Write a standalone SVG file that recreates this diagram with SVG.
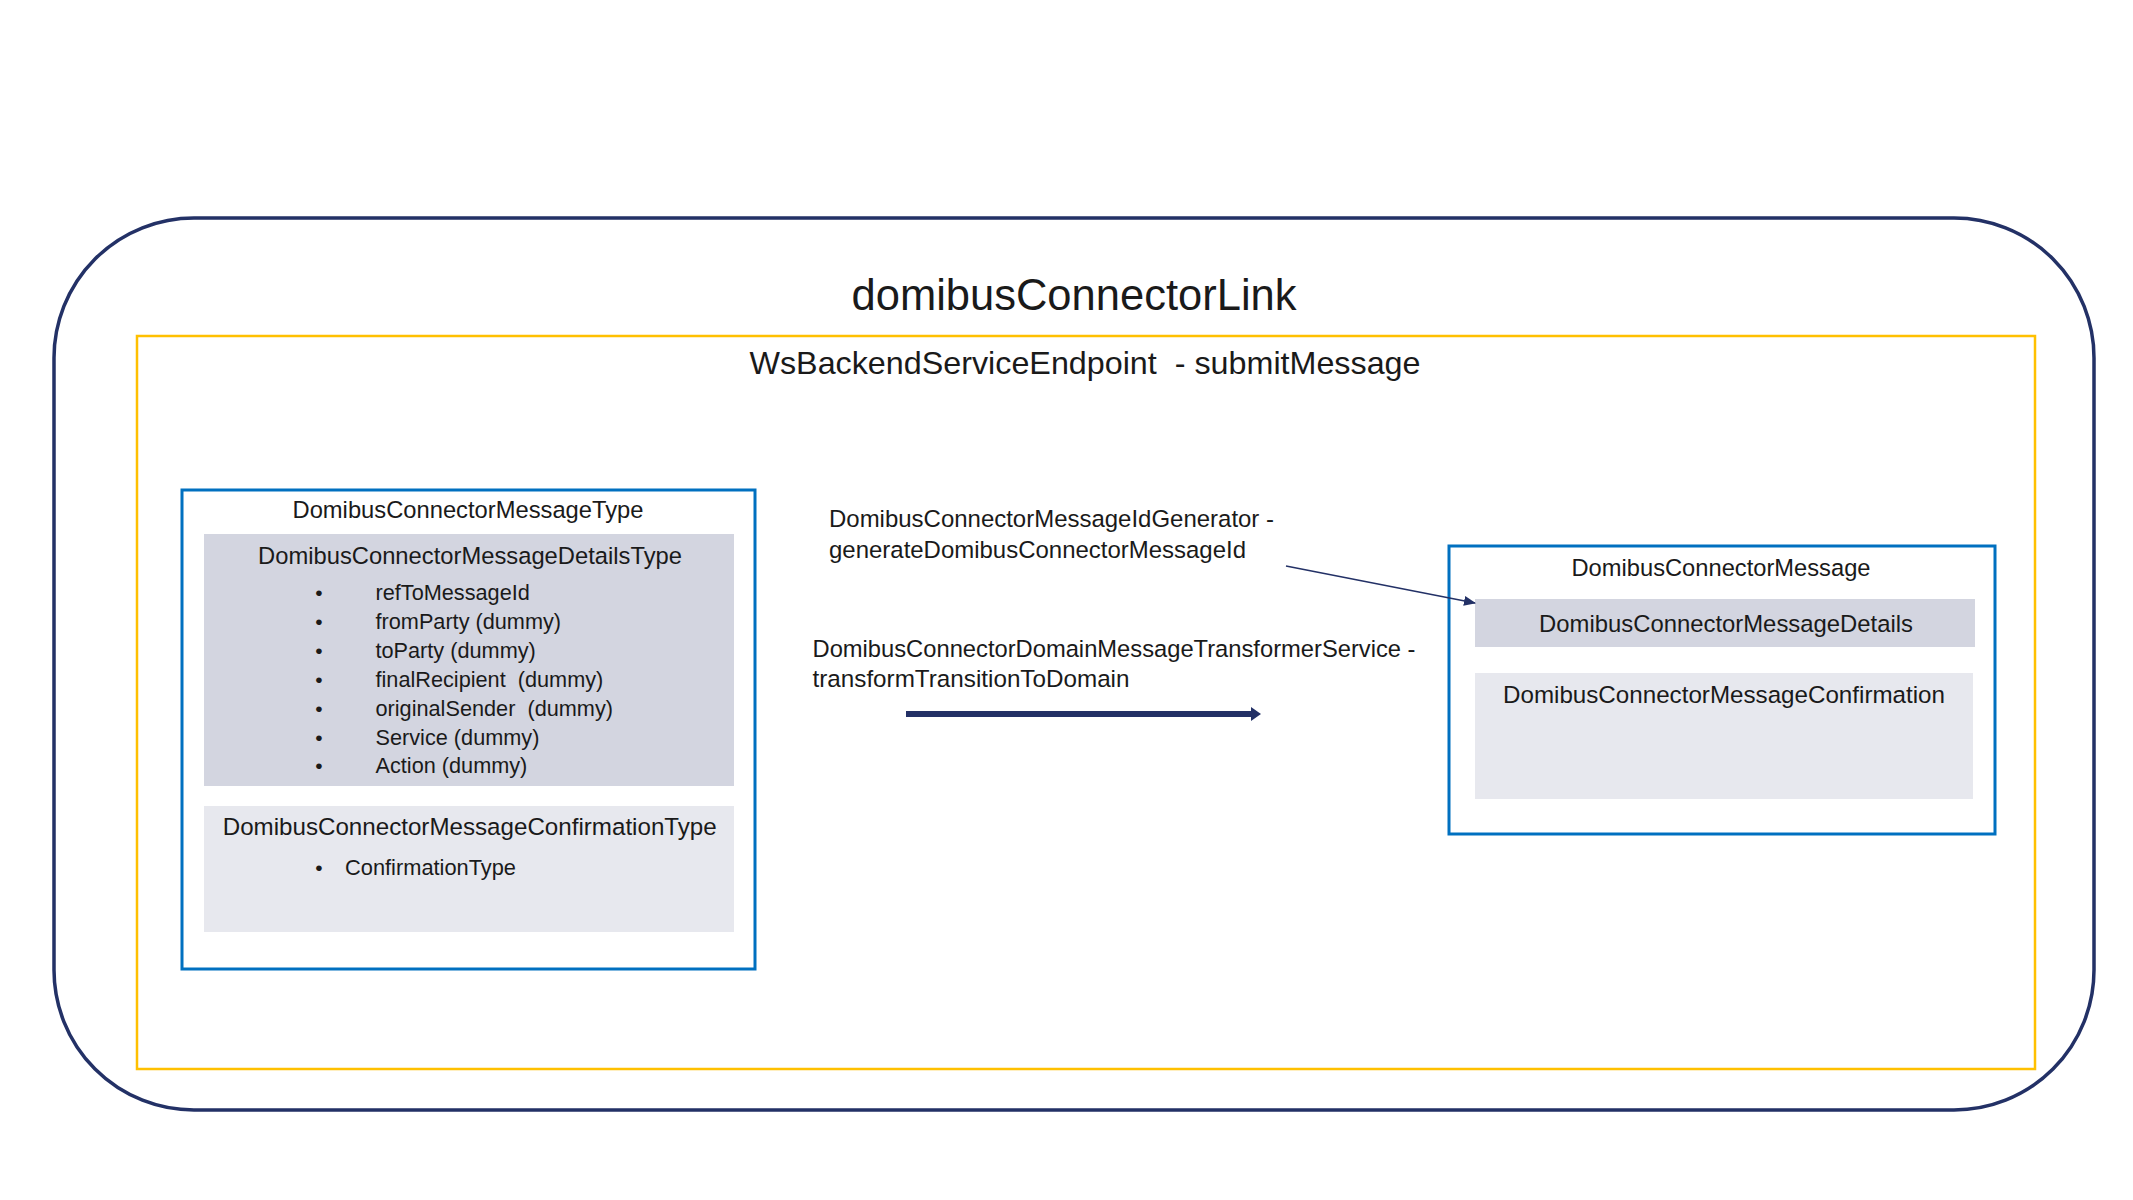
<svg xmlns="http://www.w3.org/2000/svg" width="2133" height="1200" viewBox="0 0 2133 1200">
<style>
text{font-family:"Liberation Sans",Arial,sans-serif;fill:#1a1a1a;}
.title{font-size:43.5px;text-anchor:middle;}
.sub{font-size:32px;text-anchor:middle;}
.hdr{font-size:23.7px;text-anchor:middle;}
.lbl{font-size:23.7px;}
.item{font-size:21.7px;}
.bul{font-size:21px;text-anchor:middle;}
.outer{fill:none;stroke:#233166;stroke-width:3.5;}
.frame{fill:none;stroke:#FFC000;stroke-width:2.5;}
.box{fill:#fff;stroke:#0070C0;stroke-width:3;}
.dark{fill:#D3D5E0;}
.light{fill:#E7E8EE;}
.conn{stroke:#233166;fill:none;}
</style>
<defs>
<marker id="thinHead" markerUnits="userSpaceOnUse" markerWidth="12" markerHeight="10" refX="11" refY="5" orient="auto">
<path d="M0,0 L12,5 L0,10 Z" fill="#233166"/>
</marker>
<marker id="thickHead" markerUnits="userSpaceOnUse" markerWidth="12" markerHeight="14" refX="2" refY="7" orient="auto">
<path d="M0,0 L10,7 L0,14 Z" fill="#233166"/>
</marker>
</defs>
<rect width="2133" height="1200" fill="#fff"/>
<g id="domibusConnectorLink">
<rect class="outer" x="54" y="218" width="2040" height="892" rx="140" ry="140"/>
<text class="title" x="1074" y="310" textLength="445" lengthAdjust="spacingAndGlyphs">domibusConnectorLink</text>
</g>
<g id="WsBackendServiceEndpoint">
<rect class="frame" x="137" y="336" width="1898" height="733"/>
<text class="sub" x="1085" y="374" textLength="671" lengthAdjust="spacingAndGlyphs" xml:space="preserve">WsBackendServiceEndpoint  - submitMessage</text>
</g>
<g id="DomibusConnectorMessageType">
<rect class="box" x="182" y="490" width="573" height="479"/>
<text class="hdr" x="468" y="518" textLength="351" lengthAdjust="spacingAndGlyphs">DomibusConnectorMessageType</text>
</g>
<g id="DomibusConnectorMessageDetailsType">
<rect class="dark" x="204" y="534" width="530" height="252"/>
<text class="hdr" x="470" y="564" textLength="424" lengthAdjust="spacingAndGlyphs">DomibusConnectorMessageDetailsType</text>
<text class="bul" x="319" y="600">•</text><text class="item" x="375.5" y="600">refToMessageId</text>
<text class="bul" x="319" y="629">•</text><text class="item" x="375.5" y="629">fromParty (dummy)</text>
<text class="bul" x="319" y="658">•</text><text class="item" x="375.5" y="658">toParty (dummy)</text>
<text class="bul" x="319" y="687">•</text><text class="item" x="375.5" y="687" xml:space="preserve">finalRecipient  (dummy)</text>
<text class="bul" x="319" y="716">•</text><text class="item" x="375.5" y="716" xml:space="preserve">originalSender  (dummy)</text>
<text class="bul" x="319" y="745">•</text><text class="item" x="375.5" y="745">Service (dummy)</text>
<text class="bul" x="319" y="773">•</text><text class="item" x="375.5" y="773">Action (dummy)</text>
</g>
<g id="DomibusConnectorMessageConfirmationType">
<rect class="light" x="204" y="806" width="530" height="126"/>
<text class="hdr" x="469.7" y="835" textLength="494" lengthAdjust="spacingAndGlyphs">DomibusConnectorMessageConfirmationType</text>
<text class="bul" x="319" y="875">•</text><text class="item" x="345" y="875" textLength="171" lengthAdjust="spacingAndGlyphs">ConfirmationType</text>
</g>
<g id="DomibusConnectorMessage">
<rect class="box" x="1449" y="546" width="546" height="288"/>
<text class="hdr" x="1721" y="576" textLength="299" lengthAdjust="spacingAndGlyphs">DomibusConnectorMessage</text>
</g>
<g id="DomibusConnectorMessageDetails">
<rect class="dark" x="1475" y="599" width="500" height="48"/>
<text class="hdr" x="1726" y="632" textLength="374" lengthAdjust="spacingAndGlyphs">DomibusConnectorMessageDetails</text>
</g>
<g id="DomibusConnectorMessageConfirmation">
<rect class="light" x="1475" y="673" width="498" height="126"/>
<text class="hdr" x="1724" y="703" textLength="442" lengthAdjust="spacingAndGlyphs">DomibusConnectorMessageConfirmation</text>
</g>
<g id="connectors">
<line class="conn" x1="1286" y1="566" x2="1475" y2="603" stroke-width="1.5" marker-end="url(#thinHead)"/>
<text class="lbl" x="829" y="527" textLength="445" lengthAdjust="spacingAndGlyphs">DomibusConnectorMessageIdGenerator -</text>
<text class="lbl" x="829" y="558" textLength="417" lengthAdjust="spacingAndGlyphs">generateDomibusConnectorMessageId</text>
<line class="conn" x1="906" y1="714" x2="1253" y2="714" stroke-width="6" marker-end="url(#thickHead)"/>
<text class="lbl" x="812.5" y="657" textLength="603" lengthAdjust="spacingAndGlyphs">DomibusConnectorDomainMessageTransformerService -</text>
<text class="lbl" x="812.5" y="687" textLength="317" lengthAdjust="spacingAndGlyphs">transformTransitionToDomain</text>
</g>
</svg>
